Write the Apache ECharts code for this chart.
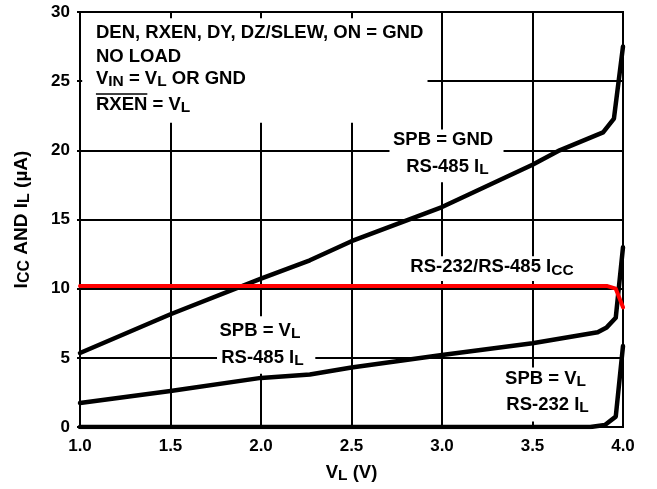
<!DOCTYPE html>
<html><head><meta charset="utf-8">
<script src="https://cdn.jsdelivr.net/npm/echarts@6/dist/echarts.min.js"></script>
<style>html,body{margin:0;padding:0;background:#fff}#c{width:657px;height:489px}</style>
</head><body><div id="c"></div>
<script>
// ---- data ----
const spbGndX = [1.0, 1.5, 2.0, 2.27, 2.5, 3.0, 3.5, 3.65, 3.89, 3.95, 4.0];
const spbGndY = [5.35, 8.15, 10.72, 12.05, 13.43, 15.9, 18.96, 20.0, 21.3, 22.3, 27.5];
const iccX = [1.0, 1.5, 2.0, 2.5, 3.0, 3.5, 3.91, 3.96, 4.0];
const iccY = [10.2, 10.2, 10.2, 10.2, 10.2, 10.2, 10.2, 10.0, 8.65];
const spbVl485X = [1.0, 1.5, 2.0, 2.27, 2.5, 3.0, 3.5, 3.86, 3.91, 3.96, 4.0];
const spbVl485Y = [1.73, 2.6, 3.55, 3.8, 4.3, 5.2, 6.05, 6.85, 7.2, 7.9, 13.0];
const rs232X = [1.0, 3.82, 3.9, 3.96, 4.0];
const rs232Y = [0, 0, 0.15, 0.75, 5.85];
const xMin = 1.0, xMax = 4.0, xStep = 0.5;
const yMin = 0, yMax = 30, yStep = 5;

const FONT = '"Liberation Sans", Arial, Helvetica, sans-serif';
const pairs = (xs, ys) => xs.map((x, i) => [x, ys[i]]);
const rich = {
  n: { fontFamily: FONT, fontWeight: 'bold', fontSize: 18.5, lineHeight: 22, color: '#000' },
  s: { fontFamily: FONT, fontWeight: 'bold', fontSize: 15.5, lineHeight: 12, verticalAlign: 'bottom', color: '#000' }
};
const richY = {
  n: { fontFamily: FONT, fontWeight: 'bold', fontSize: 19, lineHeight: 22, color: '#000' },
  s: { fontFamily: FONT, fontWeight: 'bold', fontSize: 16, lineHeight: 12, verticalAlign: 'bottom', color: '#000' }
};

const chart = echarts.init(document.getElementById('c'), null, { renderer: 'canvas' });
const lineSeries = (name, xs, ys, color, w) => ({
  type: 'line', name, data: pairs(xs, ys), showSymbol: false, symbol: 'none',
  lineStyle: { color, width: w, cap: 'round', join: 'round' }, z: 3, animation: false
});

chart.setOption({
  animation: false,
  backgroundColor: '#fff',
  grid: { left: 80, right: 34, top: 12, bottom: 61, show: true, borderColor: '#000', borderWidth: 2, backgroundColor: 'transparent' },
  xAxis: {
    type: 'value', min: xMin, max: xMax, interval: xStep,
    name: '{n|V}{s|L}{n| (V)}', nameLocation: 'middle', nameGap: 35,
    nameTextStyle: { rich },
    axisLine: { show: false }, axisTick: { show: false },
    axisLabel: { margin: 11, fontFamily: FONT, fontWeight: 'bold', fontSize: 17, color: '#000', formatter: v => v.toFixed(1), showMinLabel: true, showMaxLabel: true },
    splitLine: { show: true, lineStyle: { color: '#000', width: 2 } }
  },
  yAxis: {
    type: 'value', min: yMin, max: yMax, interval: yStep,
    name: '{n|I}{s|CC}{n| AND I}{s|L}{n| (µA)}', nameLocation: 'middle', nameGap: 47,
    nameTextStyle: { rich: richY },
    axisLine: { show: false }, axisTick: { show: true, length: 3, lineStyle: { color: '#000', width: 2 } },
    axisLabel: { margin: 10, fontFamily: FONT, fontWeight: 'bold', fontSize: 17, color: '#000' },
    splitLine: { show: true, lineStyle: { color: '#000', width: 2 } }
  },
  series: [
    lineSeries('SPB=GND RS-485 IL', spbGndX, spbGndY, '#000', 4.5),
    lineSeries('SPB=VL RS-485 IL', spbVl485X, spbVl485Y, '#000', 4.5),
    lineSeries('SPB=VL RS-232 IL', rs232X, rs232Y, '#000', 4.5),
    lineSeries('RS-232/RS-485 ICC', iccX, iccY, '#ff0000', 4)
  ]
});

const P = (x, y) => chart.convertToPixel({ gridIndex: 0 }, [x, y]);
const box = (x1, y1, x2, y2) => {
  const a = P(x1, y1), b = P(x2, y2);
  return { type: 'rect', z: 1, silent: true, shape: { x: a[0], y: a[1], width: b[0] - a[0], height: b[1] - a[1] }, style: { fill: '#fff' } };
};
const txt = (s, x, y, align) => {
  const p = P(x, y);
  return { type: 'text', z: 5, silent: true, x: p[0], y: p[1],
    style: { text: s, rich, align: align, textAlign: align, verticalAlign: 'middle', textVerticalAlign: 'middle', fill: '#000' } };
};
const cv = document.createElement('canvas').getContext('2d');
cv.font = 'bold 18.5px ' + FONT;
const rxenW = cv.measureText('RXEN').width;
const ol = P(1.088, 24.08);

chart.setOption({
  graphic: [
    box(1.012, 29.55, 2.92, 22.0),
    box(2.71, 21.5, 3.34, 17.7),
    box(2.82, 12.35, 3.73, 10.55),
    box(1.757, 8.0, 2.30, 3.85),
    box(3.35, 4.3, 3.81, 0.4),
    txt('{n|DEN, RXEN, DY, DZ/SLEW, ON = GND}', 1.088, 28.48, 'left'),
    txt('{n|NO LOAD}', 1.088, 26.75, 'left'),
    txt('{n|V}{s|IN}{n| = V}{s|L}{n| OR GND}', 1.088, 25.16, 'left'),
    txt('{n|RXEN = V}{s|L}', 1.088, 23.29, 'left'),
    { type: 'line', z: 5, silent: true, shape: { x1: ol[0], y1: ol[1], x2: ol[0] + rxenW, y2: ol[1] }, style: { stroke: '#000', lineWidth: 1.5 } },
    txt('{n|SPB = GND}', 3.006, 20.76, 'center'),
    txt('{n|RS-485 I}{s|L}', 3.03, 18.82, 'center'),
    txt('{n|RS-232/RS-485 I}{s|CC}', 3.276, 11.54, 'center'),
    txt('{n|SPB = V}{s|L}', 1.994, 6.96, 'center'),
    txt('{n|RS-485 I}{s|L}', 2.008, 5.01, 'center'),
    txt('{n|SPB = V}{s|L}', 3.572, 3.50, 'center'),
    txt('{n|RS-232 I}{s|L}', 3.583, 1.62, 'center')
  ]
});
</script></body></html>
